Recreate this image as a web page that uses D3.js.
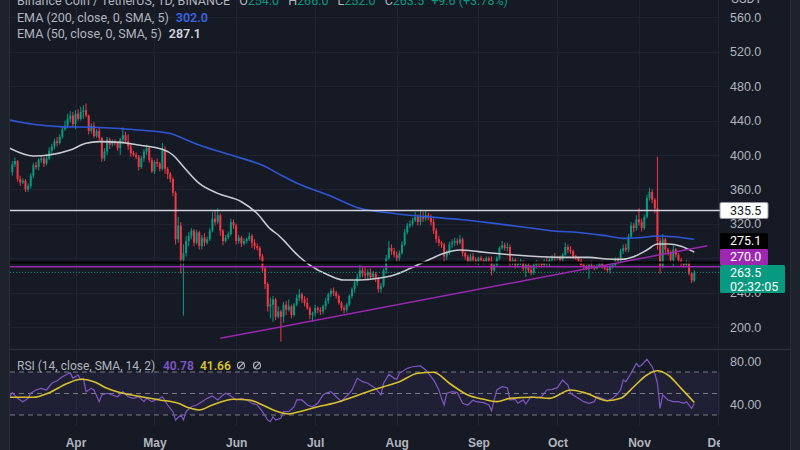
<!DOCTYPE html>
<html>
<head>
<meta charset="utf-8">
<script src="https://cdn.jsdelivr.net/npm/d3@7"></script>
<style>
  html, body { margin: 0; padding: 0; background: #161a25; }
  svg { display: block; font-family: Roboto, "Noto Sans", sans-serif; }
</style>
</head>
<body>
<div id="chart"></div>
<script>
// daily candles, BNB/USDT, first candle 2022-03-08
var startDay = Date.UTC(2022, 2, 8);
var firstOpen = 380;

var closes = [
  389,393,372,368,370,360,364,376,388,386,394,396,390,396,405,410,416,414,421,430,434,442,446,436,
  448,442,450,452,446,428,434,422,428,420,396,404,418,412,416,414,408,418,423,416,410,402,400,398,386,396,404,408,394,381,
  392,390,384,406,384,378,372,356,302,318,278,286,300,306,312,298,310,294,304,298,302,312,326,322,330,312,300,304,308,322,318,
  300,304,297,300,302,306,298,294,292,282,268,250,224,226,232,212,218,212,226,220,224,214,226,234,238,232,228,222,214,216,
  222,220,218,224,230,238,242,240,236,228,222,220,226,236,244,252,258,266,262,260,264,258,262,256,244,248,266,280,292,288,284,
  280,286,296,310,318,320,324,328,322,328,326,330,328,322,312,302,298,296,282,286,296,298,300,298,302,286,282,276,282,278,276,
  280,278,275,280,277,266,272,280,292,295,292,293,275,278,272,274,276,268,272,266,263,272,275,274,272,276,275,278,282,280,
  281,278,284,293,290,288,282,280,277,272,270,268,272,270,268,271,274,270,268,266,270,272,278,276,288,292,290,305,318,315,325,
  322,315,328,350,357,348,338,300,270,302,290,287,278,290,284,278,274,272,276,262,254,263.5
];
var highs = [
  393,397,394,376,373,372,367,379,391,392,396,399,398,401,409,413,419,421,424,433,440,448,451,450,
  452,453,456,458,460,447,437,438,430,432,421,408,421,420,418,418,416,420,432,427,424,412,405,403,400,399,407,412,410,397,
  394,396,392,414,410,386,380,374,358,328,322,296,306,310,315,314,313,312,307,309,305,315,334,336,338,332,314,307,311,326,325,
  320,307,306,303,304,310,308,302,297,294,285,270,252,234,236,234,224,220,229,230,232,226,228,238,244,240,236,234,224,218,
  226,224,223,226,234,240,245,246,242,238,230,225,228,238,246,254,262,272,270,270,267,268,265,264,258,251,268,284,300,296,292,
  288,289,300,314,321,324,327,334,331,335,334,336,333,331,326,315,306,300,298,289,299,302,304,303,307,304,288,284,285,286,281,
  282,283,280,282,282,282,275,282,294,300,298,298,296,281,280,277,279,278,274,275,272,275,278,277,276,279,282,280,284,286,
  283,283,286,298,296,294,290,284,282,279,274,272,274,277,272,273,276,277,272,271,272,274,281,281,291,296,297,308,322,321,330,
  338,326,331,354,362,360,350,398,304,308,304,292,289,295,292,286,280,276,278,277,264,266
];
var lows = [
  376,386,369,364,366,357,357,361,373,383,382,391,386,388,394,401,406,410,412,419,428,431,438,432,
  430,440,440,442,444,424,425,420,420,417,392,393,400,407,410,411,405,400,415,413,406,398,398,395,382,384,392,400,391,379,
  378,386,381,382,378,372,368,352,296,298,262,213,282,294,302,294,296,290,290,294,296,300,310,318,320,306,295,298,302,306,314,
  296,297,293,295,297,300,292,290,289,278,264,244,218,210,206,208,210,183,205,214,218,210,212,224,230,228,224,220,209,206,
  212,216,214,215,220,227,235,236,233,226,219,216,217,224,233,240,248,255,258,256,254,255,255,252,240,240,246,262,278,284,281,
  276,277,284,294,308,315,317,322,318,318,322,323,324,318,308,298,294,292,276,278,284,292,294,295,296,282,278,273,274,275,273,
  272,275,273,274,274,260,264,270,278,290,289,288,270,272,268,269,272,265,258,263,260,261,268,271,269,270,271,270,275,277,
  278,276,276,283,286,285,279,278,275,270,267,266,256,268,266,267,269,268,266,264,262,268,270,273,274,285,287,287,303,310,312,
  318,311,313,326,347,344,332,290,262,268,284,283,274,270,281,275,271,269,270,260,251,252
];

// indicator readings: [day since first candle, value]
var ema200 = [[-1,440.7],[8,435.7],[18,433],[33,432],[48,429],[60,425],[65,419],[71,411.6],[84,399],[95,388],
  [103,375],[109,366],[120,353.5],[132,338],[145,332],[158,328],[170,325],[183,320.5],[196,315.5],[208,311],
  [213,310.5],[226,305.8],[232,303],[238,303.8],[245,305.8],[251,305],[259,302]];
var ema50 = [[-1,407.8],[8,398.8],[14,400],[22,405.8],[28,413.6],[33,415.5],[41,414.7],[48,411.6],[57,406.6],[61,400],
  [65,386.4],[71,367],[78,355.4],[87,345.7],[93,332],[98,314],[101,307],[103,301],[107,287.6],[109,281.7],[113,272],
  [120,260.5],[126,254.7],[132,254.7],[139,256.6],[145,260.5],[151,268],[158,278],[164,285.7],[170,289.5],[177,287.6],
  [183,285.7],[196,282.6],[208,281],[219,281],[226,279],[231,278.7],[236,281.8],[241,289.5],[245,296.5],[249,296.5],
  [254,294],[259,287.1]];
var rsi = [[-1,47],[0,50.8],[2,45.5],[4,42.4],[6,45.5],[7,50.2],[9,53.3],[11,54.8],[13,53.3],[15,59.5],[17,61.9],
  [19,65.6],[21,68.1],[22,69.4],[23,64.1],[25,67.2],[26,62.6],[27,64.1],[28,51.7],[30,54.8],[31,53.3],[33,42.4],
  [34,48.6],[36,50.2],[38,48.6],[40,47],[42,51.7],[44,47],[46,45.5],[48,47],[50,42.4],[51,45.5],[53,42.4],[56,45.5],
  [57,47],[59,39.3],[61,33.1],[62,25.3],[64,30],[65,25.3],[66,33.1],[68,37.7],[70,39.3],[72,42.4],[74,45.5],[76,47.7],
  [78,44],[80,48.6],[81,50.2],[83,47.7],[85,44],[87,45.5],[89,44],[91,40.9],[93,39.3],[95,33.1],[97,25.3],[98,23.8],
  [99,28.4],[100,25.3],[102,26.9],[103,33.1],[105,33.1],[107,37.7],[108,44],[110,44],[112,39.3],[114,37.7],[116,40.9],
  [118,48.6],[119,50.2],[121,51.7],[123,47],[125,42.4],[126,45.5],[128,50.2],[129,53.3],[131,64.1],[133,61],[135,59.5],
  [137,56.3],[138,54.8],[140,48.6],[141,59.5],[143,67.8],[145,64.1],[146,63.2],[147,68.8],[150,73.4],[152,74.9],
  [155,75.6],[157,71.9],[159,65.6],[160,62.6],[162,53.3],[163,45.5],[164,39.3],[165,50.2],[167,51.7],[169,50.8],
  [171,40.9],[173,39.3],[175,44],[176,42.4],[179,41.5],[181,39.3],[182,34],[183,44],[184,53.3],[186,56.3],[188,55.4],
  [189,44],[191,44.6],[192,40.9],[194,44],[195,40.2],[197,47],[199,46.1],[201,47],[203,53.3],[205,53.9],[207,55.4],
  [209,62.6],[211,57.9],[212,50.2],[214,47],[216,44],[217,42.4],[219,40.9],[221,42.4],[222,47],[224,45.5],[226,43.3],
  [228,45.5],[230,50.2],[231,53.3],[232,62.6],[233,61],[235,68.8],[236,73.4],[237,78.1],[238,74.9],[239,76.5],
  [241,81.8],[243,74.9],[244,68.8],[245,59.5],[246,36.2],[247,48.6],[249,44],[251,42.4],[253,42.4],[255,40.9],
  [256,42.4],[258,36.2],[259,40.78]];
var rsiSma = [[-1,46.5],[8,46.5],[14,50.8],[21,59.5],[26,63.2],[31,61],[36,54.8],[42,50.2],[49,47],[56,44],[63,40.9],
  [67,36.8],[71,34.7],[76,39.3],[84,44.6],[90,44],[95,39.3],[100,33.7],[105,30.9],[109,33.1],[116,37.7],[122,40.9],
  [128,45.5],[135,51.7],[141,56.3],[147,61],[154,68.8],[160,69.7],[166,59.5],[173,48.6],[179,44.6],[184,42.4],
  [189,45.5],[198,46.5],[204,45.5],[212,53.3],[218,50.2],[226,43.3],[231,45.5],[236,56.3],[241,67.2],[245,71.2],
  [249,67.2],[254,54.8],[259,41.66]];

// drawings on the chart
var trendLine = [[79,186.8],[264,294.5]];
var levelWhite = 335.5, levelBlack = 275.1, levelPurple = 270.0, lastPrice = 263.5;
var priceTicks = [200,240,280,320,360,400,440,480,520,560];
var priceLabelTicks = [200,240,320,360,400,440,480,520,560]; // 280 sits under the price tags
var rsiTicks = [80,40];
var rsiBands = [70,50,30];
var lastBar = { open: 254.0, high: 266.0, low: 252.0, close: 263.5, change: "+9.6 (+3.78%)" };
var countdown = "02:32:05";

function dayDate(d) { return new Date(startDay + d * 864e5); }

var candles = closes.map(function(c, i) {
  return { date: dayDate(i), open: i ? closes[i-1] : firstOpen, high: highs[i], low: lows[i], close: c };
});

var W = 800, H = 450, left = 10, right = 720, mainBottom = 349, rsiTop = 350, rsiBottom = 426;
var green = "#089981", red = "#f23645";

var x = d3.scaleUtc()
  .domain([new Date(Date.UTC(2022,3,1)), new Date(Date.UTC(2022,11,1))])
  .range([75.5, 718]);
var y = d3.scaleLinear().domain([200, 560]).range([327, 17.4]);
var yr = d3.scaleLinear().domain([30, 70]).range([415, 372]);

var svg = d3.select("#chart").append("svg").attr("width", W).attr("height", H);
var defs = svg.append("defs");
defs.append("clipPath").attr("id", "clipMain").append("rect")
  .attr("x", left).attr("y", 0).attr("width", right - left).attr("height", mainBottom);
defs.append("clipPath").attr("id", "clipRsi").append("rect")
  .attr("x", left).attr("y", rsiTop).attr("width", right - left).attr("height", rsiBottom - rsiTop);
defs.append("clipPath").attr("id", "clipX").append("rect")
  .attr("x", left).attr("y", rsiBottom).attr("width", right - left).attr("height", H - rsiBottom);

// background
svg.append("rect").attr("width", W).attr("height", H).attr("fill", "#161a25");
svg.append("rect").attr("x", 0).attr("width", left).attr("height", H).attr("fill", "#1e222d");
svg.append("rect").attr("x", 790).attr("width", 10).attr("height", H).attr("fill", "#1e222d");
svg.append("line").attr("x1", 790.5).attr("x2", 790.5).attr("y1", 0).attr("y2", H).attr("stroke", "#2a2e39");
svg.append("line").attr("x1", left - 0.5).attr("x2", left - 0.5).attr("y1", 0).attr("y2", H).attr("stroke", "#2a2e39");

// grid
var months = d3.utcMonth.range(new Date(Date.UTC(2022,3,1)), new Date(Date.UTC(2022,11,2)));
var grid = svg.append("g").attr("stroke", "#1f2331").attr("stroke-width", 1);
grid.selectAll(".vg").data(months).enter().append("line")
  .attr("x1", function(d) { return Math.round(x(d)) + 0.5; })
  .attr("x2", function(d) { return Math.round(x(d)) + 0.5; })
  .attr("y1", 0).attr("y2", rsiBottom);
grid.selectAll(".hg").data(priceTicks).enter().append("line")
  .attr("x1", left).attr("x2", right)
  .attr("y1", function(d) { return Math.round(y(d)) + 0.5; })
  .attr("y2", function(d) { return Math.round(y(d)) + 0.5; });

// pane divider
svg.append("line").attr("x1", left).attr("x2", 790).attr("y1", mainBottom + 0.5).attr("y2", mainBottom + 0.5)
  .attr("stroke", "#2a2e39").attr("stroke-width", 1.5);

// candles
var main = svg.append("g").attr("clip-path", "url(#clipMain)");
var cg = main.selectAll(".candle").data(candles).enter().append("g");
cg.append("line")
  .attr("x1", function(d) { return x(d.date); })
  .attr("x2", function(d) { return x(d.date); })
  .attr("y1", function(d) { return y(Math.max(d.high, d.open, d.close)); })
  .attr("y2", function(d) { return y(Math.min(d.low, d.open, d.close)); })
  .attr("stroke", function(d) { return d.close >= d.open ? green : red; })
  .attr("stroke-width", 1);
cg.append("rect")
  .attr("x", function(d) { return x(d.date) - 1; })
  .attr("width", 2)
  .attr("y", function(d) { return y(Math.max(d.open, d.close)); })
  .attr("height", function(d) { return Math.max(1, Math.abs(y(d.open) - y(d.close))); })
  .attr("fill", function(d) { return d.close >= d.open ? green : red; });

// moving averages
var priceLine = d3.line()
  .x(function(d) { return x(dayDate(d[0])); })
  .y(function(d) { return y(d[1]); })
  .curve(d3.curveMonotoneX);
main.append("path").attr("d", priceLine(ema200)).attr("fill", "none")
  .attr("stroke", "#2f56d6").attr("stroke-width", 1.6);
main.append("path").attr("d", priceLine(ema50)).attr("fill", "none")
  .attr("stroke", "#c9cbd1").attr("stroke-width", 1.6);

// drawings
function hLine(v, color, w, dash) {
  main.append("line").attr("x1", left).attr("x2", right)
    .attr("y1", y(v)).attr("y2", y(v))
    .attr("stroke", color).attr("stroke-width", w)
    .attr("stroke-dasharray", dash || null);
}
hLine(levelWhite, "#d1d4dc", 1.5);
hLine(levelBlack, "#000000", 2);
hLine(levelPurple, "#9c27b0", 1.5);
hLine(lastPrice, green, 1, "1,2");
main.append("path").attr("d", d3.line()
    .x(function(d) { return x(dayDate(d[0])); })
    .y(function(d) { return y(d[1]); })(trendLine))
  .attr("fill", "none").attr("stroke", "#9c27b0").attr("stroke-width", 1.5);

// RSI pane
var rp = svg.append("g").attr("clip-path", "url(#clipRsi)");
rp.append("rect").attr("x", left).attr("width", right - left)
  .attr("y", yr(70)).attr("height", yr(30) - yr(70))
  .attr("fill", "#7e57c2").attr("fill-opacity", 0.1);
rp.selectAll(".band").data(rsiBands).enter().append("line")
  .attr("x1", left).attr("x2", right)
  .attr("y1", function(d) { return yr(d); }).attr("y2", function(d) { return yr(d); })
  .attr("stroke", "#787b86").attr("stroke-width", 1).attr("stroke-dasharray", "5,4");
var rsiLine = d3.line()
  .x(function(d) { return x(dayDate(d[0])); })
  .y(function(d) { return yr(d[1]); });
rp.append("path").attr("d", rsiLine(rsi)).attr("fill", "none")
  .attr("stroke", "#7e57c2").attr("stroke-width", 1.2);
rp.append("path").attr("d", rsiLine.curve(d3.curveMonotoneX)(rsiSma)).attr("fill", "none")
  .attr("stroke", "#d9c12c").attr("stroke-width", 1.6);

// axes
var axisColor = "#b2b5be";
var pAxis = svg.append("g").attr("transform", "translate(" + right + ",0)")
  .call(d3.axisRight(y).tickValues(priceLabelTicks).tickSize(0).tickPadding(10).tickFormat(d3.format(".1f")));
pAxis.select(".domain").remove();
pAxis.selectAll("text").attr("fill", axisColor).style("font-size", "12.5px");

var rAxis = svg.append("g").attr("transform", "translate(" + right + ",0)")
  .call(d3.axisRight(yr).tickValues(rsiTicks).tickSize(0).tickPadding(10).tickFormat(d3.format(".2f")));
rAxis.select(".domain").remove();
rAxis.selectAll("text").attr("fill", axisColor).style("font-size", "12.5px");

var xAxis = svg.append("g").attr("clip-path", "url(#clipX)")
  .append("g").attr("transform", "translate(0,435)")
  .call(d3.axisBottom(x).tickValues(months).tickSize(0).tickPadding(3).tickFormat(d3.utcFormat("%b")));
xAxis.select(".domain").remove();
xAxis.selectAll("text").attr("fill", axisColor).style("font-size", "12px").style("font-weight", "600");

svg.append("text").attr("x", 731).attr("y", 3).attr("fill", axisColor)
  .style("font-size", "12.5px").text("USDT");

// price labels on the axis
function priceTag(top, h, w, fill, color, lines, stroke) {
  var g = svg.append("g");
  g.append("rect").attr("x", right).attr("y", top).attr("width", w).attr("height", h)
    .attr("rx", 1.5).attr("fill", fill).attr("stroke", stroke || "none");
  lines.forEach(function(t, k) {
    g.append("text").attr("x", 730).attr("y", top + 8 + k * 14).attr("dy", "0.35em")
      .attr("fill", color).style("font-size", "12.5px").text(t);
  });
}
var tealTop = y(lastPrice) - 7.5;
priceTag(y(levelWhite) - 8, 16, 48, "#ffffff", "#131722", [d3.format(".1f")(levelWhite)], "#9598a1");
priceTag(tealTop - 32, 16, 48, "#000000", "#ffffff", [d3.format(".1f")(levelBlack)]);
priceTag(tealTop - 16, 16, 48, "#9c27b0", "#ffffff", [d3.format(".1f")(levelPurple)]);
priceTag(tealTop, 28, 65, green, "#ffffff", [d3.format(".1f")(lastPrice), countdown]);

// legends
var legend = svg.append("g").style("font-size", "12.5px");
var head = legend.append("text").attr("x", 17).attr("y", 4.5).style("font-size", "12.5px");
head.append("tspan").attr("fill", axisColor).text("Binance Coin / TetherUS, 1D, BINANCE");
[["O", lastBar.open], ["H", lastBar.high], ["L", lastBar.low], ["C", lastBar.close]].forEach(function(p) {
  head.append("tspan").attr("dx", 9).attr("fill", axisColor).text(p[0]);
  head.append("tspan").attr("fill", green).text(d3.format(".1f")(p[1]));
});
head.append("tspan").attr("dx", 7).attr("fill", green).text(lastBar.change);

var l1 = legend.append("text").attr("x", 17).attr("y", 21.5);
l1.append("tspan").attr("fill", axisColor).text("EMA (200, close, 0, SMA, 5)");
l1.append("tspan").attr("dx", 7).attr("fill", "#3a64e0").style("font-weight", "600").text("302.0");
var l2 = legend.append("text").attr("x", 17).attr("y", 37.5);
l2.append("tspan").attr("fill", axisColor).text("EMA (50, close, 0, SMA, 5)");
l2.append("tspan").attr("dx", 7).attr("fill", "#d1d4dc").style("font-weight", "600").text("287.1");

var l3 = legend.append("text").attr("x", 17).attr("y", 369.5).style("font-size", "12px");
l3.append("tspan").attr("fill", axisColor).text("RSI (14, close, SMA, 14, 2)");
l3.append("tspan").attr("x", 163).attr("fill", "#7e57c2").style("font-weight", "600").text("40.78");
l3.append("tspan").attr("x", 200).attr("fill", "#d9c12c").style("font-weight", "600").text("41.66");
[241, 257].forEach(function(cx) {
  var ic = legend.append("g").attr("stroke", axisColor).attr("stroke-width", 1.1).attr("fill", "none");
  ic.append("circle").attr("cx", cx).attr("cy", 365.5).attr("r", 3.5);
  ic.append("line").attr("x1", cx - 3).attr("y1", 368.5).attr("x2", cx + 3).attr("y2", 362.5);
});
</script>
</body>
</html>
